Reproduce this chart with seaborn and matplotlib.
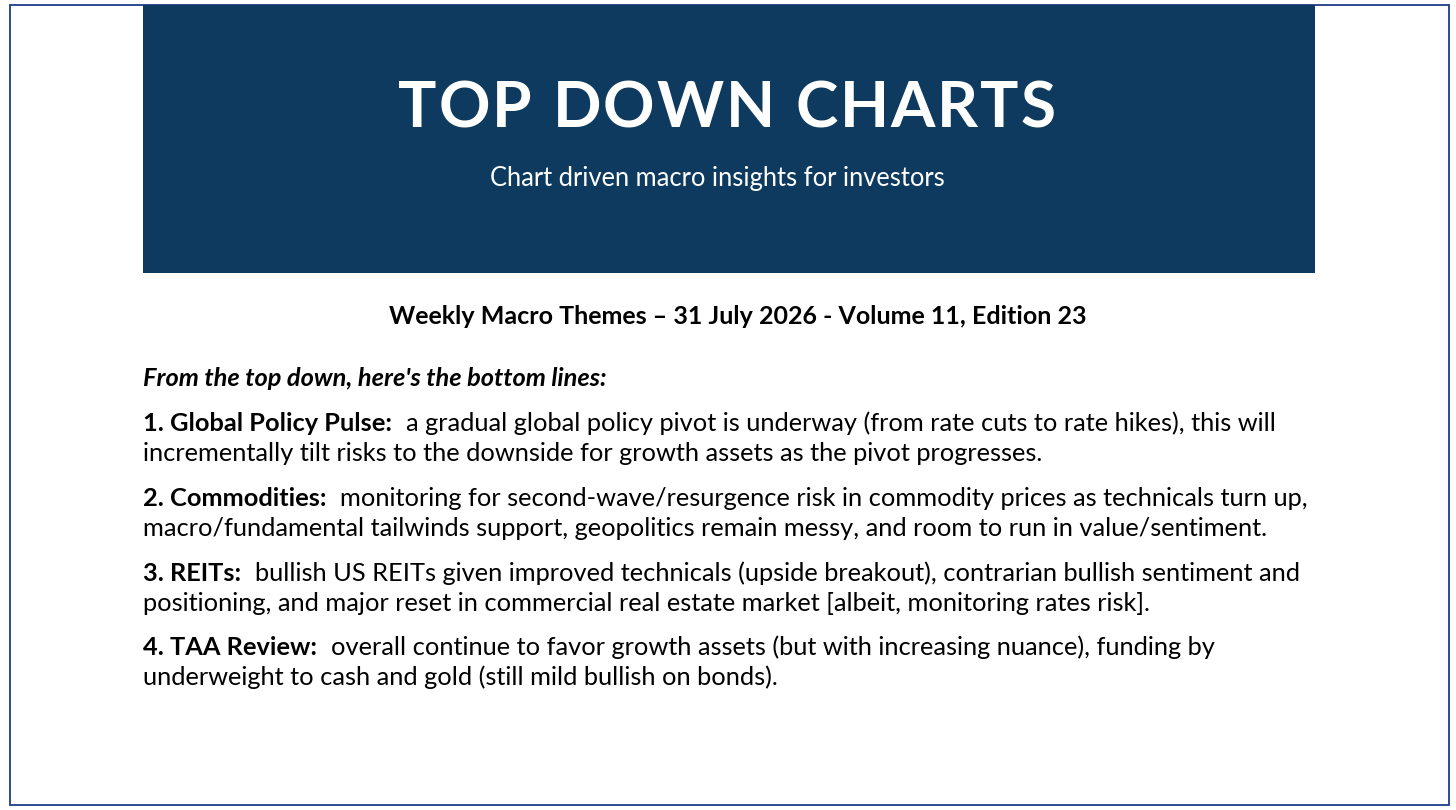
import matplotlib
matplotlib.use("Agg")
import matplotlib.pyplot as plt
import seaborn as sns
from matplotlib.patches import Rectangle

sns.set_theme(style="white")
plt.rcParams['font.family'] = ['Lato', 'DejaVu Sans']

# text content
title = "TOP DOWN CHARTS"
subtitle = "Chart driven macro insights for investors"
edition = "Weekly Macro Themes \u2013 31 July 2026 - Volume 11, Edition 23"
intro = "From the top down, here's the bottom lines:"
heads = ["1. Global Policy Pulse:", "2. Commodities:", "3. REITs:", "4. TAA Review:"]
first_lines = [
    "a gradual global policy pivot is underway (from rate cuts to rate hikes), this will",
    "monitoring for second-wave/resurgence risk in commodity prices as technicals turn up,",
    "bullish US REITs given improved technicals (upside breakout), contrarian bullish sentiment and",
    "overall continue to favor growth assets (but with increasing nuance), funding by",
]
second_lines = [
    "incrementally tilt risks to the downside for growth assets as the pivot progresses.",
    "macro/fundamental tailwinds support, geopolitics remain messy, and room to run in value/sentiment.",
    "positioning, and major reset in commercial real estate market [albeit, monitoring rates risk].",
    "underweight to cash and gold (still mild bullish on bonds).",
]

W, H = 1456, 810
navy = "#0d3a5e"
frame = "#1f3c88"

fig = plt.figure(figsize=(W / 100, H / 100), dpi=100)
ax = fig.add_axes([0, 0, 1, 1])
ax.set_xlim(0, W)
ax.set_ylim(H, 0)
ax.axis("off")
fig.canvas.draw()
renderer = fig.canvas.get_renderer()

# slide frame and header band
ax.add_patch(Rectangle((9.5, 4.5), 1439.5, 800.5, fill=False, edgecolor=frame, lw=1.3))
ax.add_patch(Rectangle((143, 5), 1172, 268, facecolor=navy, edgecolor="none"))

# title with letter spacing
def tracked(text, xc, y, size, track, **kw):
    pieces = []
    widths = []
    for ch in text:
        if ch == " ":
            widths.append(size * 0.36)
            pieces.append(None)
            continue
        t = ax.text(0, y, ch, fontsize=size, va="baseline", ha="left", **kw)
        widths.append(t.get_window_extent(renderer).width)
        pieces.append(t)
    total = sum(widths) + track * (len(text) - 1)
    x = xc - total / 2
    for t, w in zip(pieces, widths):
        if t is not None:
            t.set_x(x)
        x += w + track

tracked(title, 727, 127, 46, 2.0, color="white", fontweight="bold")
ax.text(717, 186, subtitle, fontsize=18.4, color="white", ha="center", va="baseline")

size = 18.3
ax.text(738, 324, edition, fontsize=18.0, fontweight="bold", color="black",
        ha="center", va="baseline")
ax.text(143, 386, intro, fontsize=size, fontweight="bold", fontstyle="italic",
        color="black", ha="left", va="baseline")

y0 = [431, 506, 581, 655]
for head, l1, l2, y in zip(heads, first_lines, second_lines, y0):
    t = ax.text(143, y, head, fontsize=size, fontweight="bold", color="black",
                ha="left", va="baseline")
    w = t.get_window_extent(renderer).width
    ax.text(143 + w + 14, y, l1, fontsize=size, color="black", ha="left", va="baseline")
    ax.text(143, y + 30, l2, fontsize=size, color="black", ha="left", va="baseline")

fig.savefig("out.png", dpi=100)
